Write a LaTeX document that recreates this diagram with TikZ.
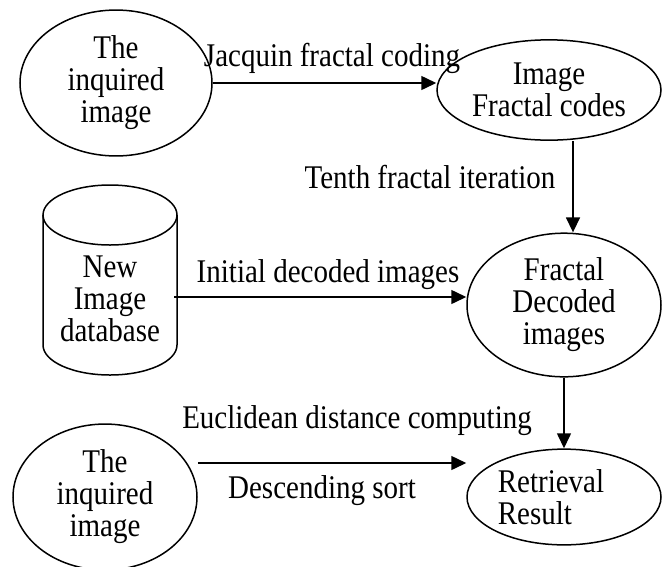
\documentclass[tikz,border=0pt]{standalone}
\usepackage{fontspec}
\setmainfont{Liberation Serif}
\usetikzlibrary{shapes.geometric,arrows.meta}

\tikzset{
  tall/.style={yscale=1.14, transform shape},
  blob/.style={tall, draw, ellipse, line width=1.5pt, inner sep=0pt, align=center},
  arr/.style={line width=1.5pt, -{Triangle[length=15pt,width=14pt]}},
  lbl/.style={tall, inner sep=0pt}
}

\begin{document}
\begin{tikzpicture}[x=1pt,y=1pt,font=\fontsize{29}{28}\selectfont]
\useasboundingbox (0,0) rectangle (667,-566);
\node[blob, minimum width=192pt, minimum height=128pt] (query) at (116,-83) {The\\inquired\\image};
\node[blob, minimum width=224pt, minimum height=88pt] (codes) at (549,-90) {Image\\Fractal codes};
\draw[line width=1.5pt] (110,-215) ellipse [x radius=67, y radius=30];
\draw[line width=1.5pt] (43,-215) -- (43,-345) arc[start angle=180, end angle=360, x radius=67, y radius=30] -- (177,-215);
\node[lbl, align=center] (db) at (110,-299) {New\\Image\\database};
\coordinate (dbout) at (174,-297);
\node[blob, minimum width=194pt, minimum height=126pt] (decoded) at (564,-305) {Fractal\\Decoded\\images};
\node[blob, minimum width=184pt, minimum height=128pt] (query2) at (105,-497) {The\\inquired\\image};
\node[blob, minimum width=194pt, minimum height=84pt, align=left] (result) at (564,-497) {Retrieval\hspace*{26pt}\\Result};
\node[lbl] (coding) at (332,-58) {Jacquin fractal coding};
\node[lbl] (iter) at (430,-177) {Tenth fractal iteration};
\node[lbl] (init) at (328,-275) {Initial decoded images};
\node[lbl] (dist) at (357,-421) {Euclidean distance computing};
\node[lbl] (sort) at (322,-491) {Descending sort};
\draw[arr] (query.east) -- (query.east -| codes.west);
\draw[arr] ([xshift=24pt]codes.south) -- ([xshift=24pt]codes.south |- decoded.north);
\draw[arr] (dbout) -- (dbout -| decoded.west);
\draw[arr] (decoded.south) -- (result.north);
\draw[arr] ([yshift=34pt]query2.east) -- ([yshift=34pt]query2.east -| result.west);
\end{tikzpicture}
\end{document}
